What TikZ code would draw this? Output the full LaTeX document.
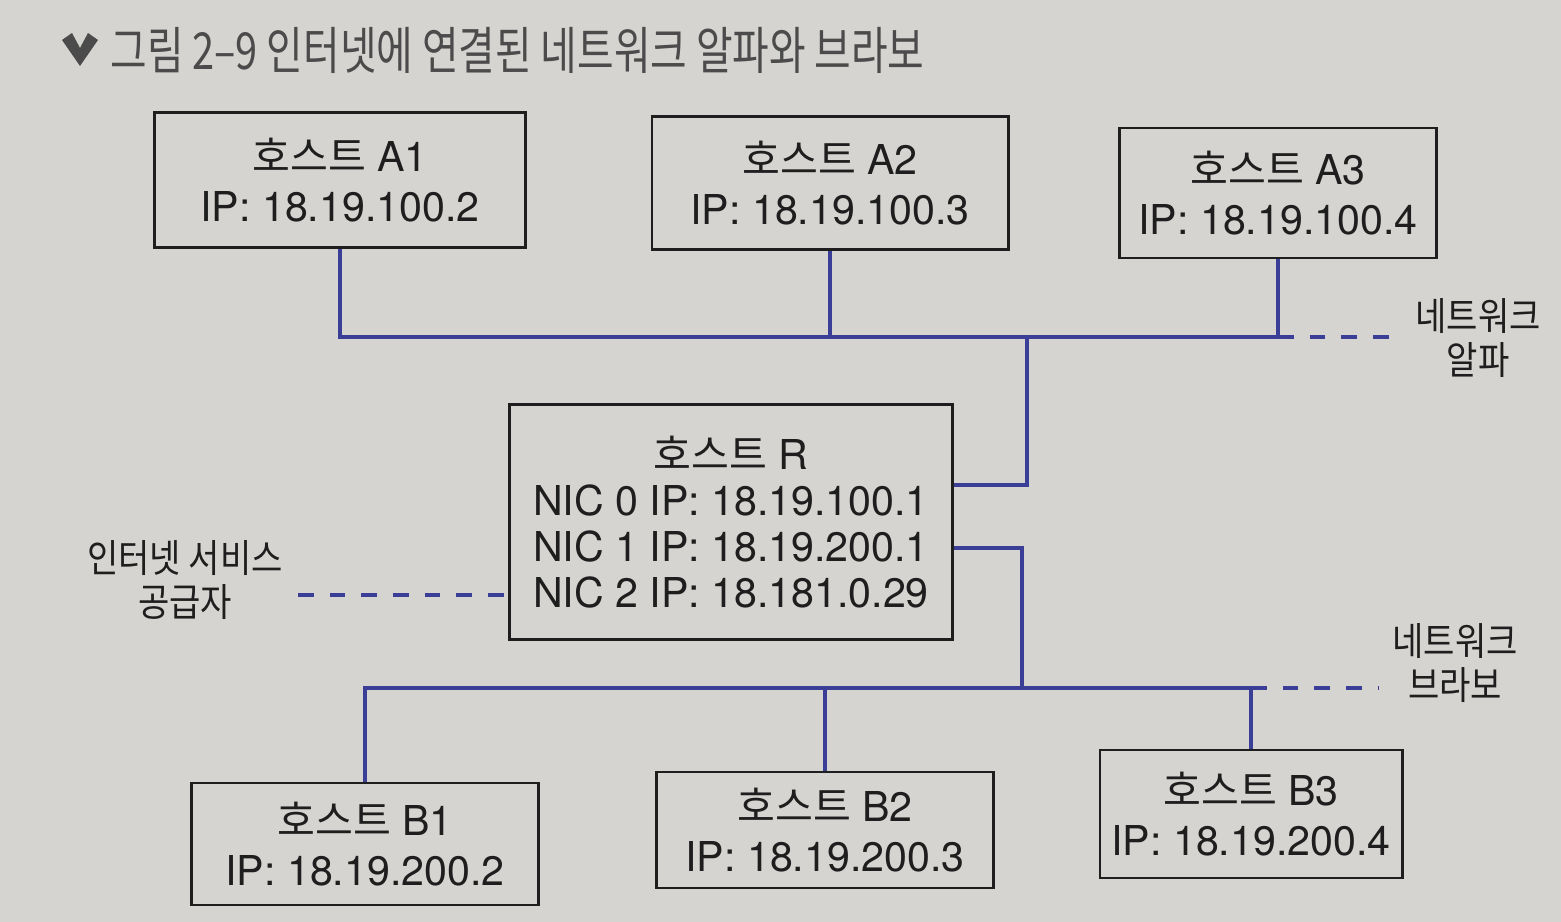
\documentclass[tikz,border=0pt]{standalone}
\usepackage{fontspec}
\setmainfont{TeX Gyre Heros}
\newfontfamily\kr{Noto Sans CJK KR}
\newfontfamily\krnarrow[FakeStretch=0.88]{Noto Sans CJK KR}
\newfontfamily\krtitle[FakeStretch=0.78]{Noto Sans CJK KR}
\usetikzlibrary{calc}
\definecolor{paper}{RGB}{214,212,208}
\definecolor{busblue}{RGB}{58,62,150}
\definecolor{ink}{RGB}{30,30,30}
\tikzset{
	host/.style={draw=ink, line width=0.8pt, text=ink, align=center, inner sep=0pt,
		font=\fontsize{11.7}{14.3}\selectfont},
	bus/.style={draw=busblue, line width=1.3pt},
	busdash/.style={draw=busblue, line width=1.3pt, dash pattern=on 4.5pt off 4.5pt},
	netlabel/.style={text=ink, align=center, font=\krnarrow\fontsize{11}{12.6}\selectfont}
}

\begin{document}
\begin{tikzpicture}[x=0.01cm, y=-0.01cm]
			%%%%% START %%%%%
			
			\fill[paper] (0, 0) rectangle (1561, 922);
			\useasboundingbox (0, 0) rectangle (1561, 922);
			
			% title
			\fill[ink!80] (62, 40) -- (72, 33) -- (80, 48) -- (88, 33) -- (98, 40) -- (80, 66) -- cycle;
			\node[anchor=west, text=ink!80, font=\krtitle\fontsize{14.5}{17}\selectfont] (title) at (98, 50) {그림 2–9 인터넷에 연결된 네트워크 알파와 브라보};
			
			% hosts
			\node[host, minimum width=3.7cm, minimum height=1.35cm] (a1) at (340, 180) {{\kr 호스트} A1\\IP: 18.19.100.2};
			\node[host, minimum width=3.56cm, minimum height=1.33cm] (a2) at (830, 183) {{\kr 호스트} A2\\IP: 18.19.100.3};
			\node[host, minimum width=3.17cm, minimum height=1.3cm] (a3) at (1278, 193) {{\kr 호스트} A3\\IP: 18.19.100.4};
			
			\node[host, minimum width=4.43cm, minimum height=2.35cm, font=\fontsize{11.7}{13.1}\selectfont] (r) at (731, 522) {{\kr 호스트} R\\NIC 0 IP: 18.19.100.1\\NIC 1 IP: 18.19.200.1\\NIC 2 IP: 18.181.0.29};
			
			\node[host, minimum width=3.46cm, minimum height=1.22cm] (b1) at (365, 844) {{\kr 호스트} B1\\IP: 18.19.200.2};
			\node[host, minimum width=3.37cm, minimum height=1.16cm] (b2) at (825, 830) {{\kr 호스트} B2\\IP: 18.19.200.3};
			\node[host, minimum width=3.02cm, minimum height=1.28cm] (b3) at (1251, 814) {{\kr 호스트} B3\\IP: 18.19.200.4};
			
			% network alpha
			\coordinate (alphaEnd) at (1278, 337);
			\coordinate (alphaTap) at (1027, 337);
			\coordinate (alphaTail) at (1400, 337);
			\draw[bus] (a1.south) |- (alphaEnd) -- (a3.south);
			\draw[bus] (a2.south) -- (a2.south |- alphaEnd);
			\draw[bus] (alphaTap) |- ([yshift=0.37cm]r.east);
			\draw[busdash] (alphaEnd) -- (alphaTail);
			\node[netlabel] (alpha) at (1478, 338) {네트워크\\알파};
			
			% network bravo
			\coordinate (bravoEnd) at (1251, 688);
			\coordinate (bravoTap) at (1022, 688);
			\coordinate (bravoTail) at (1378, 688);
			\draw[bus] (b1.north) |- (bravoEnd) -- (b3.north);
			\draw[bus] (b2.north) -- (b2.north |- bravoEnd);
			\draw[bus] ([yshift=-0.26cm]r.east) -| (bravoTap);
			\draw[busdash] (bravoEnd) -- (bravoTail);
			\node[netlabel] (bravo) at (1455, 663) {네트워크\\브라보};
			
			% internet service provider
			\coordinate (ispTail) at (298, 595);
			\draw[busdash] (ispTail) -- (ispTail -| r.west);
			\node[netlabel] (isp) at (185, 580) {인터넷 서비스\\공급자};
			
			%%%%% END %%%%%
\end{tikzpicture}
\end{document}
